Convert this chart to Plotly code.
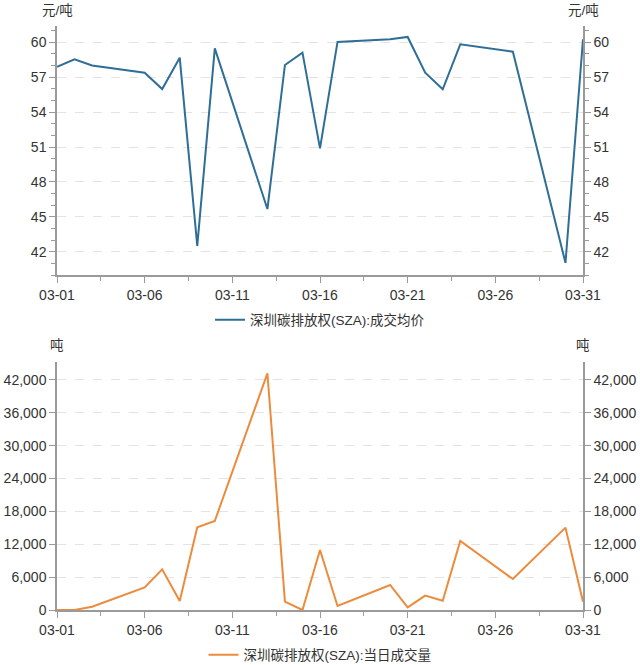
import plotly.graph_objects as go

dates = ["2023-03-01", "2023-03-02", "2023-03-03", "2023-03-06", "2023-03-07",
         "2023-03-08", "2023-03-09", "2023-03-10", "2023-03-13", "2023-03-14",
         "2023-03-15", "2023-03-16", "2023-03-17", "2023-03-20", "2023-03-21",
         "2023-03-22", "2023-03-23", "2023-03-24", "2023-03-27", "2023-03-30",
         "2023-03-31"]
price = [57.9, 58.54, 58.0, 57.39, 55.98, 58.68, 42.51, 59.48, 45.67, 58.05,
         59.11, 50.88, 60.03, 60.26, 60.46, 57.39, 55.96, 59.83, 59.19, 41.05,
         60.26]
volume = [0, 0, 610, 4140, 7430, 1640, 15100, 16250, 43220, 1520,
          0, 10960, 730, 4570, 490, 2620, 1700, 12600, 5660, 15040,
          1520]

price_name = "深圳碳排放权(SZA):成交均价"
volume_name = "深圳碳排放权(SZA):当日成交量"
price_unit = "元/吨"
volume_unit = "吨"

FONT = "Liberation Sans, Arial, Noto Sans CJK SC, sans-serif"
AXIS_COLOR = "#9a9a9a"
TEXT_COLOR = "#333333"
GRID_COLOR = "#e3e3e3"
BLUE = "#2F6E97"
ORANGE = "#EC8B3C"

DAY = 86400000

fig = go.Figure()
fig.add_trace(go.Scatter(x=dates, y=price, mode="lines", name=price_name,
                         line=dict(color=BLUE, width=2),
                         xaxis="x", yaxis="y", legend="legend"))
fig.add_trace(go.Scatter(x=dates, y=price, mode="lines", showlegend=False,
                         opacity=0, hoverinfo="skip",
                         line=dict(color=BLUE, width=1),
                         xaxis="x", yaxis="y3"))
fig.add_trace(go.Scatter(x=dates, y=volume, mode="lines", name=volume_name,
                         line=dict(color=ORANGE, width=2),
                         xaxis="x2", yaxis="y2", legend="legend2"))
fig.add_trace(go.Scatter(x=dates, y=volume, mode="lines", showlegend=False,
                         opacity=0, hoverinfo="skip",
                         line=dict(color=ORANGE, width=1),
                         xaxis="x2", yaxis="y4"))

tickfont = dict(family=FONT, size=14, color=TEXT_COLOR)

def xaxis_cfg(anchor):
    return dict(
        anchor=anchor, domain=[0, 1], type="date", automargin=False,
        range=["2023-03-01", "2023-03-31"],
        tick0="2023-03-01", dtick=5 * DAY, tickformat="%m-%d",
        ticks="outside", ticklen=6, tickcolor=AXIS_COLOR, tickwidth=1,
        showline=True, linecolor=AXIS_COLOR, linewidth=1.5,
        showgrid=False, zeroline=False, tickfont=tickfont,
        minor=dict(tick0="2023-03-01", dtick=2.5 * DAY, ticks="outside",
                   ticklen=4, tickcolor=AXIS_COLOR, showgrid=False),
    )

top_dom = [0.5736, 1.0]
bot_dom = [0.0, 0.4252]

def yaxis_cfg(domain, rng, dtick, side, minor, grid, overlay=None, fmt=None):
    d = dict(
        anchor="x" if domain is top_dom else "x2", domain=domain,
        range=rng, tick0=0, dtick=dtick, side=side, automargin=False,
        ticks="outside", ticklen=6, tickcolor=AXIS_COLOR, tickwidth=1,
        showline=True, linecolor=AXIS_COLOR, linewidth=1.5,
        showgrid=grid, gridcolor=GRID_COLOR, griddash="dash", gridwidth=1,
        zeroline=False, tickfont=tickfont, fixedrange=True,
    )
    if minor:
        d["minor"] = dict(dtick=1, tick0=0, ticks="outside", ticklen=4,
                          tickcolor=AXIS_COLOR, showgrid=False)
    if overlay:
        d["overlaying"] = overlay
    if fmt:
        d["tickformat"] = fmt
    return d

legend_font = dict(family=FONT, size=13.5, color=TEXT_COLOR)

fig.update_layout(
    width=640, height=665,
    margin=dict(l=57, r=57, t=26, b=55, autoexpand=False),
    paper_bgcolor="white", plot_bgcolor="white",
    font=dict(family=FONT, size=14, color=TEXT_COLOR),
    xaxis=xaxis_cfg("y"),
    xaxis2=xaxis_cfg("y2"),
    yaxis=yaxis_cfg(top_dom, [40, 61.4], 3, "left", True, True),
    yaxis3=yaxis_cfg(top_dom, [40, 61.4], 3, "right", True, False, overlay="y"),
    yaxis2=yaxis_cfg(bot_dom, [0, 45340], 6000, "left", False, True, fmt=",d"),
    yaxis4=yaxis_cfg(bot_dom, [0, 45340], 6000, "right", False, False, overlay="y2", fmt=",d"),
    legend=dict(x=0.5, xanchor="center", y=1 - 320 / 665, yanchor="middle",
                yref="container", orientation="h", font=legend_font,
                bgcolor="rgba(0,0,0,0)"),
    legend2=dict(x=0.5, xanchor="center", y=1 - 655 / 665, yanchor="middle",
                 yref="container", orientation="h", font=legend_font,
                 bgcolor="rgba(0,0,0,0)"),
    showlegend=True,
    annotations=[
        dict(text=price_unit, xref="paper", yref="paper", x=0, y=1,
             xanchor="center", yanchor="middle", yshift=16, showarrow=False,
             font=legend_font),
        dict(text=price_unit, xref="paper", yref="paper", x=1, y=1,
             xanchor="center", yanchor="middle", yshift=16, showarrow=False,
             font=legend_font),
        dict(text=volume_unit, xref="paper", yref="paper", x=0, y=bot_dom[1],
             xanchor="center", yanchor="middle", yshift=16, showarrow=False,
             font=legend_font),
        dict(text=volume_unit, xref="paper", yref="paper", x=1, y=bot_dom[1],
             xanchor="center", yanchor="middle", yshift=16, showarrow=False,
             font=legend_font),
    ],
)

fig.write_html("out.html")
